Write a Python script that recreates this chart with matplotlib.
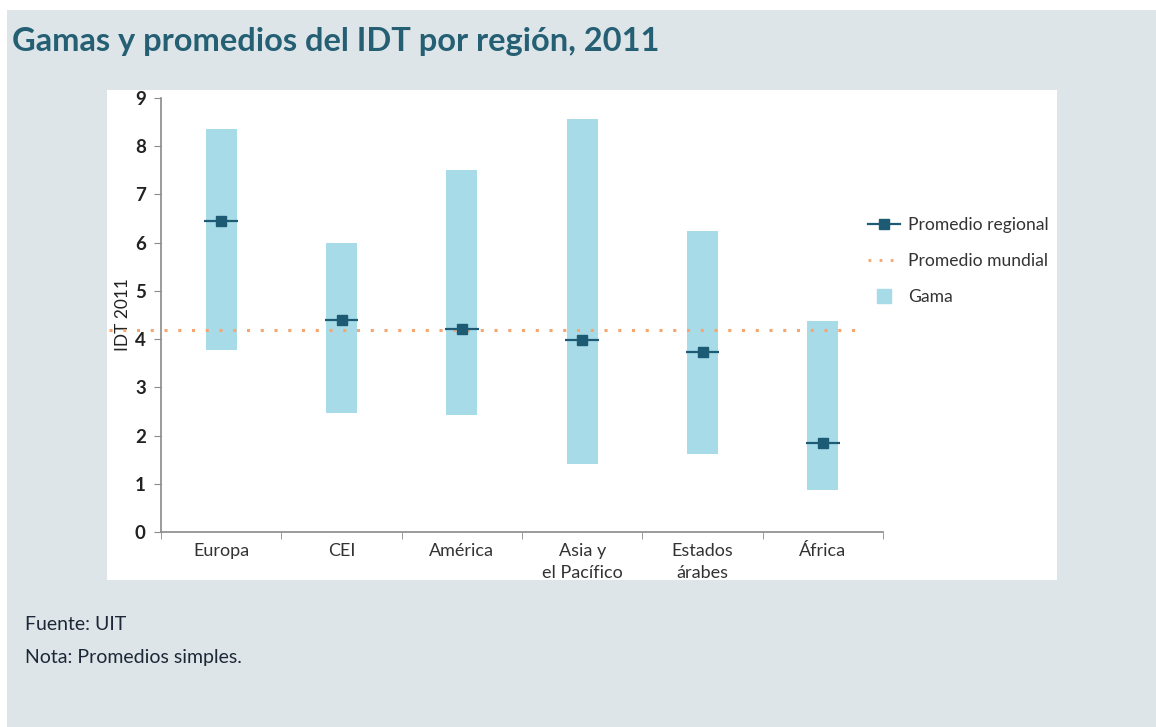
import matplotlib.pyplot as plt
from matplotlib.patches import Rectangle
from matplotlib.lines import Line2D
import numpy as np

plt.rcParams['font.family'] = ['Lato', 'DejaVu Sans']

# Data
regiones = ['Europa', 'CEI', 'América', 'Asia y\nel Pacífico', 'Estados\nárabes', 'África']
minimo = [3.78, 2.47, 2.42, 1.42, 1.62, 0.88]
maximo = [8.35, 6.00, 7.50, 8.57, 6.25, 4.38]
promedio = [6.45, 4.40, 4.22, 3.98, 3.73, 1.85]
promedio_mundial = 4.19

W, H = 1156, 727
fig = plt.figure(figsize=(W / 100, H / 100), dpi=100, facecolor='white')

gris = '#dee5e8'
# gray page background and white chart panel
fig.patches.append(Rectangle((7 / W, 0), 1 - 7 / W, 1 - 10 / H, transform=fig.transFigure,
                             facecolor=gris, edgecolor='none', zorder=-10))
fig.patches.append(Rectangle((107 / W, 1 - 580 / H), 950 / W, 490 / H, transform=fig.transFigure,
                             facecolor='white', edgecolor='none', zorder=-9))

ax = fig.add_axes([161 / W, 1 - 532 / H, 722 / W, 434 / H])
ax.set_facecolor('none')

x = np.arange(len(regiones))
alto = np.array(maximo) - np.array(minimo)
ax.bar(x, alto, bottom=minimo, width=0.26, color='#a8dbe8', zorder=2)

# world average dotted line (extends left past the axis)
ax.plot([-0.93, 5.29], [promedio_mundial, promedio_mundial], linestyle=(0, (1, 3.5)),
        color='#f5a56e', lw=2.2, clip_on=False, zorder=3)

ax.hlines(promedio, x - 0.14, x + 0.14, color='#1d5a73', lw=1.6, zorder=4)
ax.plot(x, promedio, 's', color='#1d5a73', ms=7.5, zorder=5)

ax.set_xlim(-0.5, 5.5)
ax.set_ylim(0, 9)
ax.set_yticks(range(0, 10))
ax.set_xticks(x)
ax.set_xticklabels(regiones, fontsize=13, color='#333333', linespacing=1.45)
ax.set_xticks(np.arange(-0.5, 6, 1), minor=True)
ax.tick_params(axis='x', which='major', length=0, pad=8)
ax.tick_params(axis='x', which='minor', length=5, color='#8a8a8a', direction='out')
ax.tick_params(axis='y', length=5, color='#8a8a8a', labelsize=13.5, labelcolor='#222222', pad=6)
for t in ax.get_yticklabels():
    t.set_fontweight('bold')
ax.set_ylabel('IDT 2011', fontsize=12.5, color='#222222', labelpad=3)
for s in ['top', 'right']:
    ax.spines[s].set_visible(False)
for s in ['left', 'bottom']:
    ax.spines[s].set_color('#8a8a8a')
    ax.spines[s].set_linewidth(1.2)

handles = [
    Line2D([], [], color='#1d5a73', marker='s', ms=7, lw=1.6),
    Line2D([], [], color='#f5a56e', linestyle=(0, (1, 3)), lw=2),
    Line2D([], [], color='#a8dbe8', marker='s', ms=10, lw=0),
]
fig.legend(handles, ['Promedio regional', 'Promedio mundial', 'Gama'],
           loc='upper left', bbox_to_anchor=(852 / W, 1 - 201 / H), frameon=False,
           fontsize=12.6, labelspacing=1.15, handlelength=1.85, handletextpad=0.45,
           labelcolor='#333333')

# cover the bottom of the two-line labels and the right edge like in the original
fig.patches.append(Rectangle((107 / W, 1 - 600 / H), 960 / W, 20 / H, transform=fig.transFigure,
                             facecolor=gris, edgecolor='none', zorder=10))
fig.patches.append(Rectangle((1057 / W, 1 - 580 / H), 99 / W, 490 / H, transform=fig.transFigure,
                             facecolor=gris, edgecolor='none', zorder=10))

fig.text(12 / W, 1 - 42 / H, 'Gamas y promedios del IDT por región, 2011', fontsize=23.5,
         fontweight='bold', color='#245f74', va='center', ha='left')
fig.text(25 / W, 1 - 624 / H, 'Fuente: UIT', fontsize=14, color='#1c2838', va='center')
fig.text(25 / W, 1 - 658 / H, 'Nota: Promedios simples.', fontsize=14, color='#1c2838', va='center')

fig.savefig('out.png', dpi=100, facecolor=fig.get_facecolor())
